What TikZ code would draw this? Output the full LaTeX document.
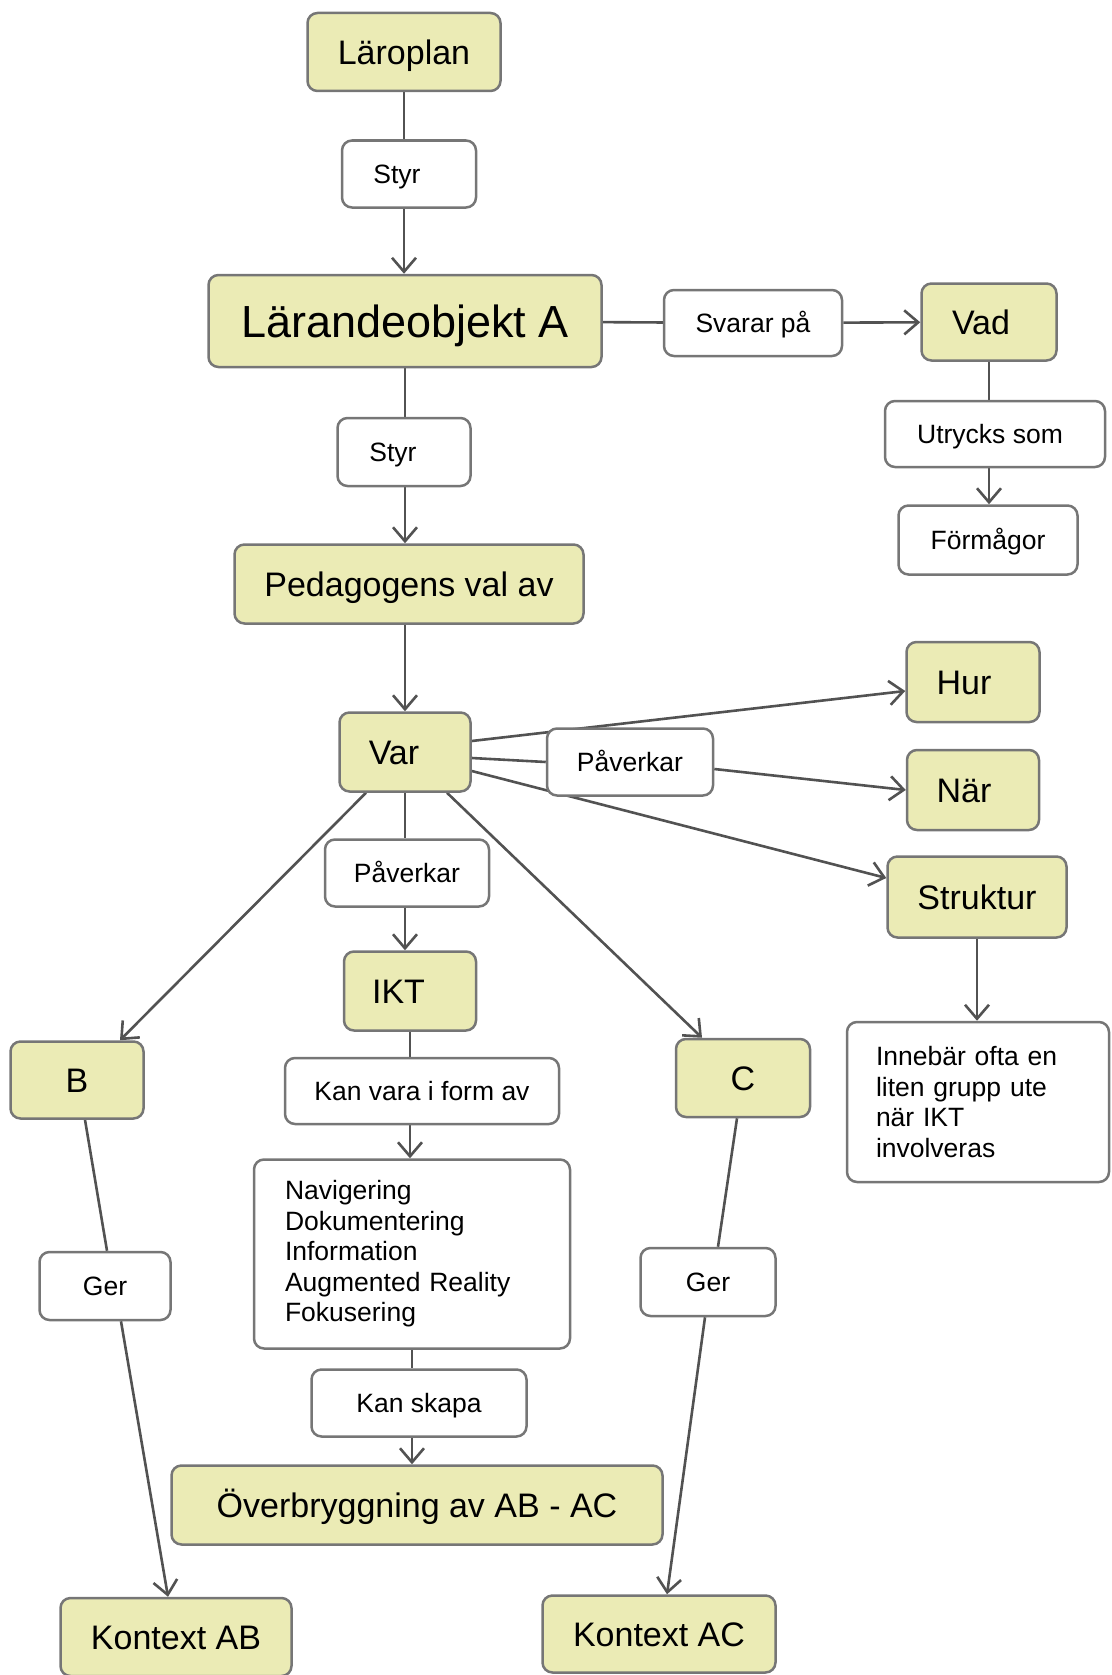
\documentclass[tikz,border=0pt]{standalone}
\usepackage{fontspec}
\setmainfont{Liberation Sans}
\usetikzlibrary{arrows.meta, backgrounds}
\definecolor{rim}{RGB}{118,118,118}
\definecolor{wire}{RGB}{82,82,82}
\definecolor{leaf}{RGB}{235,235,181}
\tikzset{
  conc/.style={draw=rim, fill=leaf, rounded corners=10pt, line width=2.5pt, inner sep=0pt,
    font=\fontsize{34pt}{40pt}\selectfont, text height=24.5pt, text depth=0pt},
  lbl/.style={draw=rim, fill=white, rounded corners=10pt, line width=2.5pt, inner sep=0pt,
    font=\fontsize{26.5pt}{30.5pt}\selectfont, text height=19pt, text depth=0pt},
  listbox/.style={draw=rim, fill=white, rounded corners=10pt, line width=2.5pt, inner ysep=0pt,
    font=\fontsize{26.5pt}{30.5pt}\selectfont, align=left},
  box/.style 2 args={minimum width=#1pt, minimum height=#2pt},
  shove/.style={execute at end node={\hspace*{#1pt}}},
  wireline/.style={draw=wire, line width=2.6pt}
}

\begin{document}
\begin{tikzpicture}[x=1pt, y=-1pt, >={Straight Barb[length=14pt,width=24pt]}]
\useasboundingbox (0,0) rectangle (1111,1675);
\node[conc, box={193}{78}](lplan) at (404,52){Läroplan};
\node[lbl, box={134}{67}, shove=24](styr1) at (409,174){Styr};
\node[conc, box={393}{92}, font=\fontsize{45pt}{50pt}\selectfont, text height=32.4pt](lobj) at (405,321){Lärandeobjekt A};
\node[lbl, box={178}{66}](svarar) at (753,323){Svarar på};
\node[conc, box={135}{77}, shove=16](vad) at (989,322){Vad};
\node[lbl, box={220}{66}, shove=10](utr) at (995,434){Utrycks som};
\node[lbl, box={179}{69}](form) at (988,540){Förmågor};
\node[lbl, box={133}{68}, shove=22](styr2) at (404,452){Styr};
\node[conc, box={349}{79}](ped) at (409,584){Pedagogens val av};
\node[conc, box={131}{79}, shove=22](var) at (405,752){Var};
\node[lbl, box={166}{67}](pav1) at (630,762){Påverkar};
\node[conc, box={133}{80}, shove=18](hur) at (973,682){Hur};
\node[conc, box={132}{80}, shove=18](nar) at (973,790){När};
\node[conc, box={179}{81}](strukt) at (977,897){Struktur};
\node[lbl, box={164}{67}](pav2) at (407,873){Påverkar};
\node[conc, box={132}{79}, shove=23](ikt) at (410,991){IKT};
\node[conc, box={133}{77}](b) at (77,1080){B};
\node[conc, box={134}{78}](c) at (743,1078){C};
\node[lbl, box={274}{66}](kanvara) at (422,1091){Kan vara i form av};
\node[listbox, box={262}{160}, text width=204pt, inner xsep=29pt](inneb) at (978,1102)
  {Innebär ofta en\\liten grupp ute\\när IKT\\involveras};
\node[listbox, box={316}{189}, text width=254pt, inner xsep=31pt](navig) at (412,1254)
  {Navigering\\Dokumentering\\Information\\Augmented Reality\\Fokusering};
\node[lbl, box={131}{68}](gerl) at (105,1286){Ger};
\node[lbl, box={135}{68}](gerr) at (708,1282){Ger};
\node[lbl, box={215}{67}](skapa) at (419,1403){Kan skapa};
\node[conc, box={491}{79}](overb) at (417,1505){Överbryggning av AB - AC};
\node[conc, box={231}{78}](kab) at (176,1637){Kontext AB};
\node[conc, box={233}{77}](kac) at (659,1634){Kontext AC};

\begin{scope}[on background layer]
\begin{scope}[wireline]
\draw (lplan) -- (lplan |- styr1.north);
\draw[->] (lplan |- styr1.south) -- (lplan |- lobj.north);
\draw (lobj) -- (svarar);
\draw[->] (svarar) -- (vad);
\draw (vad) -- (vad |- utr.north);
\draw[->] (vad |- utr.south) -- (vad |- form.north);
\draw (lobj) -- (lobj |- styr2.north);
\draw[->] (lobj |- styr2.south) -- (lobj |- ped.north);
\draw[->] (var |- ped.south) -- (var);
\draw[->] ([yshift=11pt]var.east) -- ([yshift=-9pt]hur.west);
\draw ([yshift=-6pt]var.east) -- (pav1.west);
\draw[->] ([yshift=-7pt]pav1.east) -- (nar.west);
\draw[->] ([yshift=-19pt]var.east) -- ([yshift=19pt]strukt.west);
\draw (var) -- (var |- pav2.north);
\draw[->] (var |- pav2.south) -- (var |- ikt.north);
\draw[->] ([xshift=-39pt]var.south) -- ([xshift=43pt]b.north);
\draw[->] ([xshift=42pt]var.south) -- ([xshift=-41pt]c.north);
\draw (ikt) -- (ikt |- kanvara.north);
\draw[->] (ikt |- kanvara.south) -- (ikt |- navig.north);
\draw (navig.south) -- (navig.south |- skapa.north);
\draw[->] (navig.south |- skapa.south) -- (navig.south |- overb.north);
\draw[->] (strukt) -- (strukt |- inneb.north);
\draw ([xshift=8pt]b.south) -- ([xshift=2pt]gerl.north);
\draw[->] ([xshift=16pt]gerl.south) -- ([xshift=-8pt]kab.north);
\draw ([xshift=-6pt]c.south) -- ([xshift=10pt]gerr.north);
\draw[->] ([xshift=-3pt]gerr.south) -- ([xshift=8pt]kac.north);
\end{scope}
\end{scope}
\end{tikzpicture}
\end{document}
